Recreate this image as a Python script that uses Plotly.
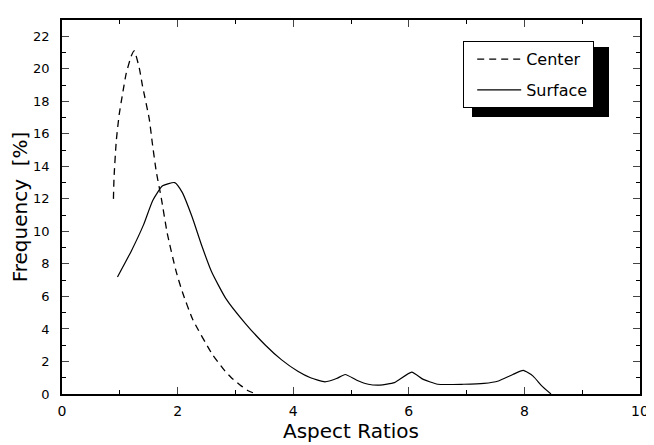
import plotly.graph_objects as go

# Data
center_x = [0.89, 0.90, 0.94, 0.99, 1.05, 1.11, 1.20, 1.25, 1.34, 1.39, 1.51, 1.56,
            1.63, 1.72, 1.82, 1.97, 2.08, 2.26, 2.59, 2.80, 2.93, 3.10, 3.22, 3.36]
center_y = [12.0, 13.3, 15.6, 17.2, 18.5, 19.7, 20.8, 21.1, 20.0, 19.0, 16.9, 15.5,
            13.7, 12.0, 9.9, 7.6, 6.3, 4.6, 2.5, 1.5, 1.0, 0.5, 0.2, 0.0]

surface_x = [0.96, 1.20, 1.41, 1.57, 1.74, 1.95, 2.08, 2.25, 2.42, 2.59, 2.83, 3.17,
             3.52, 3.80, 4.08, 4.30, 4.55, 4.75, 4.90, 5.10, 5.30, 5.50, 5.75, 6.05,
             6.25, 6.50, 6.95, 7.30, 7.55, 7.80, 7.98, 8.15, 8.30, 8.46]
surface_y = [7.2, 8.8, 10.4, 11.9, 12.8, 13.0, 12.4, 10.9, 9.1, 7.5, 5.9, 4.35,
             3.0, 2.1, 1.4, 1.0, 0.75, 0.95, 1.2, 0.85, 0.6, 0.55, 0.7, 1.35,
             0.9, 0.6, 0.6, 0.65, 0.8, 1.2, 1.45, 1.1, 0.5, 0.0]

x_ticks = [0, 2, 4, 6, 8, 10]
y_ticks = [0, 2, 4, 6, 8, 10, 12, 14, 16, 18, 20, 22]

FONT = "DejaVu Sans, Arial, sans-serif"

fig = go.Figure()
fig.add_trace(go.Scatter(x=center_x, y=center_y, mode="lines", name="Center",
                         legendgroup="c",
                         line=dict(color="black", width=1.3, dash="7px,5px", shape="spline", smoothing=0.5)))
fig.add_trace(go.Scatter(x=surface_x, y=surface_y, mode="lines", name="Surface",
                         legendgroup="s",
                         line=dict(color="black", width=1.2, shape="spline", smoothing=0.5)))

# page has an 8px body margin: figure coordinates = page coordinates - 8
W, H = 646, 437
L, R, T, B = 54, 14, 12, 51
pw, ph = W - L - R, H - T - B

def px2paper(x, y):
    return (x - L) / pw, (H - B - y) / ph

# legend drop shadow
sx0, sy0 = px2paper(464, 109)
sx1, sy1 = px2paper(601, 39)
fig.add_shape(type="rect", xref="paper", yref="paper", x0=sx0, y0=sy0, x1=sx1, y1=sy1,
              fillcolor="black", line=dict(width=0), layer="above")

lx, ly = px2paper(455, 33)
fig.update_layout(
    width=W, height=H,
    margin=dict(l=L, r=R, t=T, b=B, autoexpand=False),
    paper_bgcolor="white", plot_bgcolor="white",
    font=dict(family=FONT, color="black"),
    showlegend=True,
    legend=dict(x=lx, y=ly, xanchor="left", yanchor="top",
                bgcolor="white", bordercolor="black", borderwidth=1.2,
                font=dict(size=16, family=FONT), traceorder="grouped",
                tracegroupgap=7, itemwidth=44, indentation=8, entrywidth=128),
    xaxis=dict(range=[0, 10], tickvals=x_ticks, ticks="inside", ticklen=7, tickwidth=1.2,
               showline=True, linecolor="black", linewidth=1.5, mirror="ticks",
               showgrid=False, zeroline=False, tickfont=dict(size=14), automargin=False,
               ticklabelstandoff=3,
               minor=dict(dtick=1, ticks="inside", ticklen=4, tickcolor="black"),
               title=dict(text="Aspect Ratios", font=dict(size=20), standoff=3)),
    yaxis=dict(range=[0, 23], tickvals=y_ticks, ticks="inside", ticklen=7, tickwidth=1.2,
               showline=True, linecolor="black", linewidth=1.5, mirror="ticks",
               showgrid=False, zeroline=False, tickfont=dict(size=13), automargin=False,
               ticklabelstandoff=8,
               minor=dict(dtick=1, ticks="inside", ticklen=4, tickcolor="black"),
               title=dict(text="Frequency  [%]", font=dict(size=20), standoff=8)),
)

fig.write_html("out.html")
